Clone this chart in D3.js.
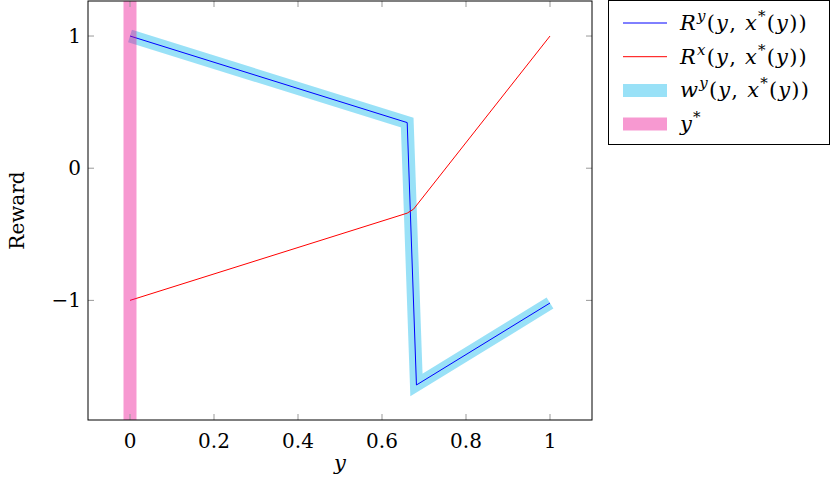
<!DOCTYPE html>
<html>
<head>
<meta charset="utf-8">
<script src="https://cdn.jsdelivr.net/npm/d3@7"></script>
<style>
  body { margin: 0; background: #fff; }
  text { font-family: "DejaVu Serif", "Liberation Serif", serif; }
</style>
</head>
<body>
<div id="chart"></div>
<script>
// chart size
const width = 831;
const height = 489;
const margin = {left: 88, right: 239, top: 1, bottom: 69};

// data
const ryX = [0, 0.66, 0.682, 1];
const ryY = [1, 0.345, -1.64, -1.02];
const rxX = [0, 0.66, 0.675, 1];
const rxY = [-1, -0.34, -0.31, 1];
const yStar = 0;
const xTicks = [0, 0.2, 0.4, 0.6, 0.8, 1];
const yTicks = [-1, 0, 1];

const svg = d3.select("#chart")
  .append("svg")
  .attr("width", width)
  .attr("height", height);

const x = d3.scaleLinear()
  .domain([-0.1, 1.1])
  .range([margin.left, width - margin.right]);

const y = d3.scaleLinear()
  .domain([-1.905, 1.265])
  .range([height - margin.bottom, margin.top]);

const line = d3.line().x(d => x(d[0])).y(d => y(d[1]));
const ry = d3.zip(ryX, ryY);
const rx = d3.zip(rxX, rxY);

// clip to axis box
svg.append("clipPath").attr("id", "clip")
  .append("rect")
  .attr("x", x(-0.1)).attr("y", y(1.265))
  .attr("width", x(1.1) - x(-0.1))
  .attr("height", y(-1.905) - y(1.265));

const plot = svg.append("g").attr("clip-path", "url(#clip)");

// wide cyan band under the blue line
plot.append("path")
  .attr("d", line(ry))
  .attr("fill", "none")
  .attr("stroke", "#00b4eb")
  .attr("stroke-opacity", 0.4)
  .attr("stroke-width", 13);

plot.append("path")
  .attr("d", line(ry))
  .attr("fill", "none")
  .attr("stroke", "blue")
  .attr("stroke-width", 1);

plot.append("path")
  .attr("d", line(rx))
  .attr("fill", "none")
  .attr("stroke", "red")
  .attr("stroke-width", 1);

// y* vertical band
plot.append("line")
  .attr("x1", x(yStar)).attr("x2", x(yStar))
  .attr("y1", y(1.265)).attr("y2", y(-1.905))
  .attr("stroke", "#ec008c")
  .attr("stroke-opacity", 0.4)
  .attr("stroke-width", 13);

// ticks (inside, both sides)
const tickLen = 6;
const g = svg.append("g").attr("stroke", "#999").attr("stroke-width", 1);
xTicks.forEach(t => {
  g.append("line").attr("x1", x(t)).attr("x2", x(t))
    .attr("y1", y(-1.905)).attr("y2", y(-1.905) - tickLen);
  g.append("line").attr("x1", x(t)).attr("x2", x(t))
    .attr("y1", y(1.265)).attr("y2", y(1.265) + tickLen);
});
yTicks.forEach(t => {
  g.append("line").attr("x1", x(-0.1)).attr("x2", x(-0.1) + tickLen)
    .attr("y1", y(t)).attr("y2", y(t));
  g.append("line").attr("x1", x(1.1)).attr("x2", x(1.1) - tickLen)
    .attr("y1", y(t)).attr("y2", y(t));
});

// axis box
svg.append("rect")
  .attr("x", x(-0.1)).attr("y", y(1.265))
  .attr("width", x(1.1) - x(-0.1))
  .attr("height", y(-1.905) - y(1.265))
  .attr("fill", "none")
  .attr("stroke", "#000")
  .attr("stroke-width", 1);

// tick labels
svg.append("g").selectAll("text")
  .data(xTicks)
  .enter().append("text")
  .attr("x", d => x(d))
  .attr("y", y(-1.905) + 28)
  .attr("text-anchor", "middle")
  .attr("font-size", 20)
  .text(d => d3.format("~g")(d));

svg.append("g").selectAll("text")
  .data(yTicks)
  .enter().append("text")
  .attr("x", x(-0.1) - 7)
  .attr("y", d => y(d) + 7)
  .attr("text-anchor", "end")
  .attr("font-size", 20)
  .text(d => d < 0 ? "\u2212" + Math.abs(d) : d);

// axis labels
svg.append("text")
  .attr("x", (x(-0.1) + x(1.1)) / 2)
  .attr("y", 470)
  .attr("text-anchor", "middle")
  .attr("font-size", 21)
  .attr("font-style", "italic")
  .text("y");

svg.append("text")
  .attr("transform", `translate(24, ${(y(1.265) + y(-1.905)) / 2}) rotate(-90)`)
  .attr("text-anchor", "middle")
  .attr("font-size", 20)
  .text("Reward");

// legend
const legend = svg.append("g");
legend.append("rect")
  .attr("x", 608.5).attr("y", 0.5)
  .attr("width", 221).attr("height", 144)
  .attr("fill", "#fff").attr("stroke", "#000");

const entries = [
  {color: "blue", w: 1, op: 1, sym: "R", sup: "y", rest: true},
  {color: "red", w: 1, op: 1, sym: "R", sup: "x", rest: true},
  {color: "#00b4eb", w: 13, op: 0.4, sym: "w", sup: "y", rest: true},
  {color: "#ec008c", w: 13, op: 0.4, sym: "y", sup: "*", rest: false}
];

entries.forEach((e, i) => {
  const ly = 23 + i * 33.7;
  legend.append("line")
    .attr("x1", 623).attr("x2", 667)
    .attr("y1", ly).attr("y2", ly)
    .attr("stroke", e.color)
    .attr("stroke-opacity", e.op)
    .attr("stroke-width", e.w);
  const t = legend.append("text")
    .attr("x", 680).attr("y", ly + 7)
    .attr("font-size", 21)
    .attr("letter-spacing", 1.2)
    .attr("font-style", "italic");
  t.append("tspan").text(e.sym);
  t.append("tspan").attr("dy", -9).attr("font-size", 15)
    .attr("font-style", e.sup === "*" ? "normal" : "italic").text(e.sup);
  if (e.rest) {
    t.append("tspan").attr("dy", 9).attr("font-style", "normal").text("(");
    t.append("tspan").text("y");
    t.append("tspan").attr("font-style", "normal").text(", ");
    t.append("tspan").text("x");
    t.append("tspan").attr("dy", -9).attr("font-size", 15).attr("font-style", "normal").text("*");
    t.append("tspan").attr("dy", 9).attr("font-style", "normal").text("(");
    t.append("tspan").text("y");
    t.append("tspan").attr("font-style", "normal").text("))");
  }
});
</script>
</body>
</html>
